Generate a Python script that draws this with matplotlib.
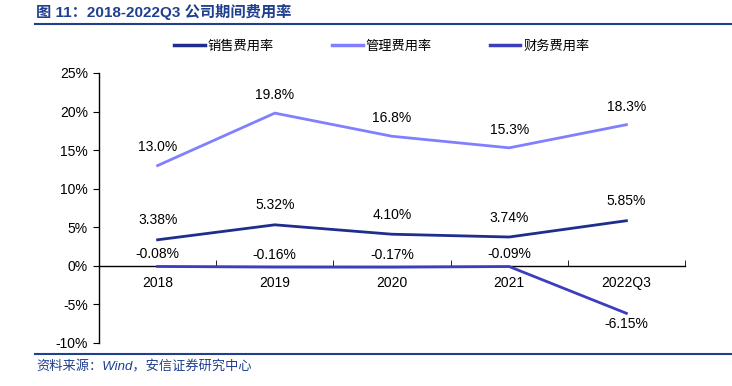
import numpy as np
import matplotlib
matplotlib.use('Agg')
import matplotlib.pyplot as plt
from matplotlib.lines import Line2D
import matplotlib.ticker as ticker

plt.rcParams['font.family'] = ['Liberation Sans', 'Noto Sans CJK SC', 'DejaVu Sans']

# data
years = ['2018', '2019', '2020', '2021', '2022Q3']
sales = [3.38, 5.32, 4.10, 3.74, 5.85]
admin = [13.0, 19.8, 16.8, 15.3, 18.3]
finance = [-0.08, -0.16, -0.17, -0.09, -6.15]
sales_lbl = ['3.38%', '5.32%', '4.10%', '3.74%', '5.85%']
admin_lbl = ['13.0%', '19.8%', '16.8%', '15.3%', '18.3%']
finance_lbl = ['-0.08%', '-0.16%', '-0.17%', '-0.09%', '-6.15%']
names = ['销售费用率', '管理费用率', '财务费用率']

c_sales = '#1f2d8c'
c_admin = '#8080ff'
c_fin = '#3d3dbd'
c_title = '#1f3f8f'

fig = plt.figure(figsize=(7.32, 3.86), dpi=100)
ax = fig.add_axes([99/732, 1-343/386, (685-99)/732, (343-73)/386])

x = np.arange(len(years))
ax.plot(x, sales, color=c_sales, lw=2, zorder=4)
ax.plot(x, admin, color=c_admin, lw=2, zorder=4)
ax.plot(x, finance, color=c_fin, lw=2, zorder=4)

fs = 10
for i in range(len(x)):
    ax.annotate(admin_lbl[i], (x[i], admin[i]), xytext=(0, 8), textcoords='offset points',
                ha='center', va='bottom', fontsize=fs)
    ax.annotate(sales_lbl[i], (x[i], sales[i]), xytext=(0, 9), textcoords='offset points',
                ha='center', va='bottom', fontsize=fs)
    if finance[i] > -1:
        ax.annotate(finance_lbl[i], (x[i], finance[i]), xytext=(0, 4), textcoords='offset points',
                    ha='center', va='bottom', fontsize=fs)
    else:
        ax.annotate(finance_lbl[i], (x[i], finance[i]), xytext=(0, -3), textcoords='offset points',
                    ha='center', va='top', fontsize=fs)

ax.set_xlim(-0.5, 4.5)
ax.set_ylim(-10, 25)
ax.yaxis.set_major_locator(ticker.MultipleLocator(5))
ax.yaxis.set_major_formatter(ticker.FuncFormatter(lambda v, p: '%d%%' % v))
ax.spines['top'].set_visible(False)
ax.spines['right'].set_visible(False)
ax.spines['bottom'].set_position(('data', 0))
ax.set_xticks(x)
ax.set_xticklabels(years)
ax.set_xticks(np.arange(-0.5, 5, 1), minor=True)
ax.tick_params(axis='x', which='major', length=0, pad=7, labelsize=fs)
ax.tick_params(axis='x', which='minor', length=4, direction='in')
ax.tick_params(axis='y', length=4, direction='out', labelsize=fs, pad=4)
for s in ['left', 'bottom']:
    ax.spines[s].set_linewidth(1)

# legend
handles = [Line2D([], [], color=c, lw=2.5) for c in [c_sales, c_admin, c_fin]]
fig.legend(handles, names, loc='center', bbox_to_anchor=(0.522, 1-46/386), ncol=3,
           frameon=False, handlelength=2.3, columnspacing=4.4, handletextpad=0.25,
           prop={'family': 'Noto Sans CJK SC', 'size': 9.5})

# title and source
fig.text(36/732, 1-12/386, '图 11：2018-2022Q3 公司期间费用率', color=c_title, fontsize=11,
         fontweight='bold', va='center', ha='left', family=['Liberation Sans', 'Noto Sans CJK SC'])
fig.add_artist(Line2D([35/732, 1], [1-24/386, 1-24/386], color=c_title, lw=1.5))
fig.add_artist(Line2D([35/732, 1], [1-354/386, 1-354/386], color=c_title, lw=1.5))
fig.text(36/732, 1-367/386, '资料来源：Wind，安信证券研究中心', color=c_title, fontsize=9.5,
         va='center', ha='left', style='italic', family=['Liberation Sans', 'Noto Sans CJK SC'])

fig.savefig('out.png', dpi=100)
